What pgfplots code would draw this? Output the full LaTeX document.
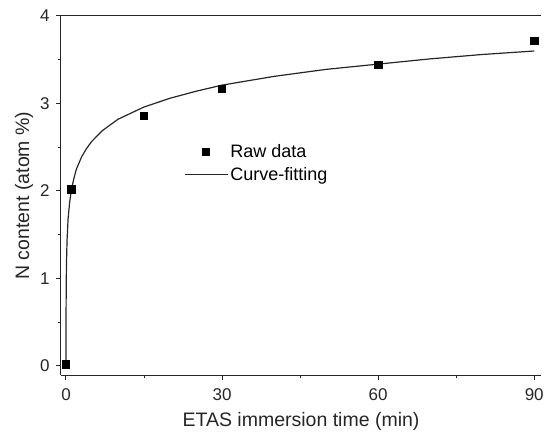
\documentclass[border=0pt]{standalone}
\usepackage{fontspec}
\setmainfont{Liberation Sans}
\usepackage{pgfplots}
\pgfplotsset{compat=1.18}
\pgfplotsset{
    rawleg/.style={legend image code/.code={\draw[#1] plot coordinates {(21pt,0pt)};}},
    fitleg/.style={legend image code/.code={\draw[#1] (0pt,0pt) -- (43pt,0pt);}},
}

\begin{document}
\begin{tikzpicture}
\begin{axis}[
    scale only axis,
    width=480pt, height=359pt,
    xmin=-0.96, xmax=91.3,
    ymin=-0.103, ymax=4,
    axis lines*=left,
    axis line style={line width=1pt, black!85},
    xtick={0,30,60,90},
    minor xtick={15,45,75},
    ytick={0,1,2,3,4},
    minor ytick={0.5,1.5,2.5,3.5},
    tick align=outside,
    major tick length=5pt,
    minor tick length=3pt,
    tick style={line width=1pt, black!85},
    /pgf/number format/assume math mode=true,
    ticklabel style={font=\fontsize{17}{19}\selectfont, black!85},
    xticklabel style={yshift=-5pt},
    yticklabel style={xshift=-3pt},
    xlabel={ETAS immersion time (min)},
    ylabel={N content (atom \%)},
    label style={font=\fontsize{19.5}{22}\selectfont, black!85},
    xlabel style={yshift=-5pt},
    legend style={draw=none, fill=none, at={(0.25,0.655)}, anchor=north west,
        font=\fontsize{18}{20}\selectfont, row sep=5pt},
    legend cell align=left,
    clip=false,
]
\addplot[only marks, mark=square*, mark size=3.6pt, black, rawleg] coordinates {
    (0,0.02) (1,2.02) (15,2.86) (30,3.17) (60,3.44) (90,3.72)
};
\addlegendentry{Raw data}
\addplot[no marks, line width=1.2pt, black!85, fitleg] coordinates {
    (0,0) (0.001,0.08) (0.005,0.31) (0.02,0.67) (0.05,0.96) (0.1,1.19)
    (0.2,1.43) (0.4,1.68) (0.7,1.87) (1,2.00) (1.5,2.14) (2,2.25)
    (3,2.39) (4,2.49) (5,2.57) (7,2.69) (10,2.82) (15,2.96) (20,3.06)
    (25,3.14) (30,3.21) (40,3.31) (50,3.39) (60,3.45) (70,3.51)
    (80,3.56) (90,3.60)
};
\addlegendentry{Curve-fitting}
\draw[line width=1pt, black!85] (rel axis cs:0,1) -- (rel axis cs:1,1);
\end{axis}
\pgfresetboundingbox
\useasboundingbox (-61pt,-58pt) rectangle (484pt,375pt);
\end{tikzpicture}
\end{document}
